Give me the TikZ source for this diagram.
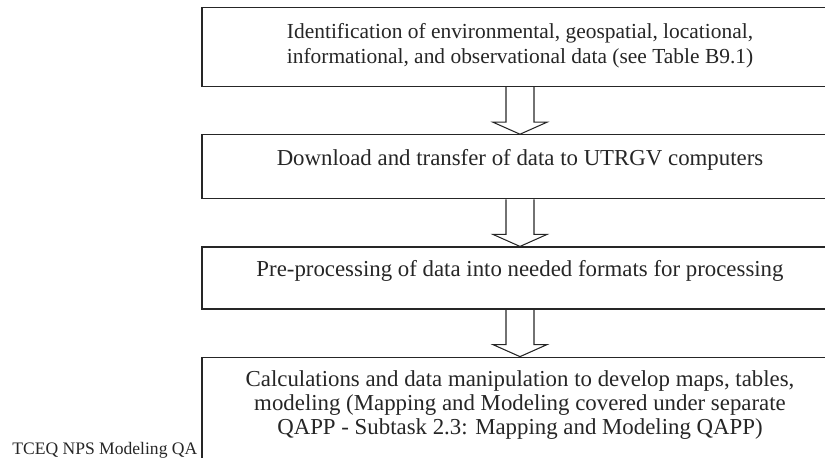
\documentclass[tikz,border=0pt]{standalone}
\usepackage{fontspec}
\setmainfont{Liberation Serif}
\usetikzlibrary{positioning,calc}
\definecolor{scanink}{RGB}{38,38,38}

% hollow block arrow from the bottom of one box to the top of the next
\newcommand{\blockarr}[2]{%
  \draw[hollow] ($(#1.south)+(-14,0)$) -- ($(#2.north)+(-14,-12)$)
    -- ($(#2.north)+(-27,-12)$) -- (#2.north) -- ($(#2.north)+(27,-12)$)
    -- ($(#2.north)+(14,-12)$) -- ($(#1.south)+(14,0)$);}

\begin{document}
\begin{tikzpicture}[x=0.02cm, y=-0.02cm,
  stepbox/.style={draw=scanink, line width=0.7pt, fill=white, minimum width=12.72cm,
                  inner sep=0pt, anchor=north},
  steptext/.style={font=\fontsize{13}{13.5}\selectfont, text=scanink, align=center, inner sep=0pt},
  hollow/.style={draw=scanink, line width=0.6pt, line join=miter},
  node distance=0.94cm
]
\useasboundingbox (0,0) rectangle (825,457);
\clip (0,0) rectangle (825,457);

% page footer, half hidden behind the last box
\node[anchor=base west, font=\fontsize{10}{12}\selectfont, text=scanink, inner sep=0pt]
  (footer) at (12,454) {TCEQ NPS Modeling QA};

\node[stepbox, minimum height=1.58cm] (ident) at (520,7) {};
\node[stepbox, minimum height=1.28cm, below=of ident] (download) {};
\node[stepbox, minimum height=1.24cm, below=of download] (preproc) {};
\node[stepbox, minimum height=2.4cm, below=of preproc] (calc) {};

\node[steptext, font=\fontsize{12.2}{14.5}\selectfont, below=9pt of ident.north] (identtxt)
  {Identification of environmental, geospatial, locational,\\
   informational, and observational data (see Table B9.1)};
\node[steptext, below=8.4pt of download.north] (downloadtxt)
  {Download and transfer of data to UTRGV computers};
\node[steptext, below=7.6pt of preproc.north] (preproctxt)
  {Pre-processing of data into needed formats for processing};
\node[steptext, below=8pt of calc.north] (calctxt)
  {Calculations and data manipulation to develop maps, tables,\\
   modeling (Mapping and Modeling covered under separate\\
   QAPP - Subtask 2.3: Mapping and Modeling QAPP)};

\blockarr{ident}{download}
\blockarr{download}{preproc}
\blockarr{preproc}{calc}
\end{tikzpicture}
\end{document}
